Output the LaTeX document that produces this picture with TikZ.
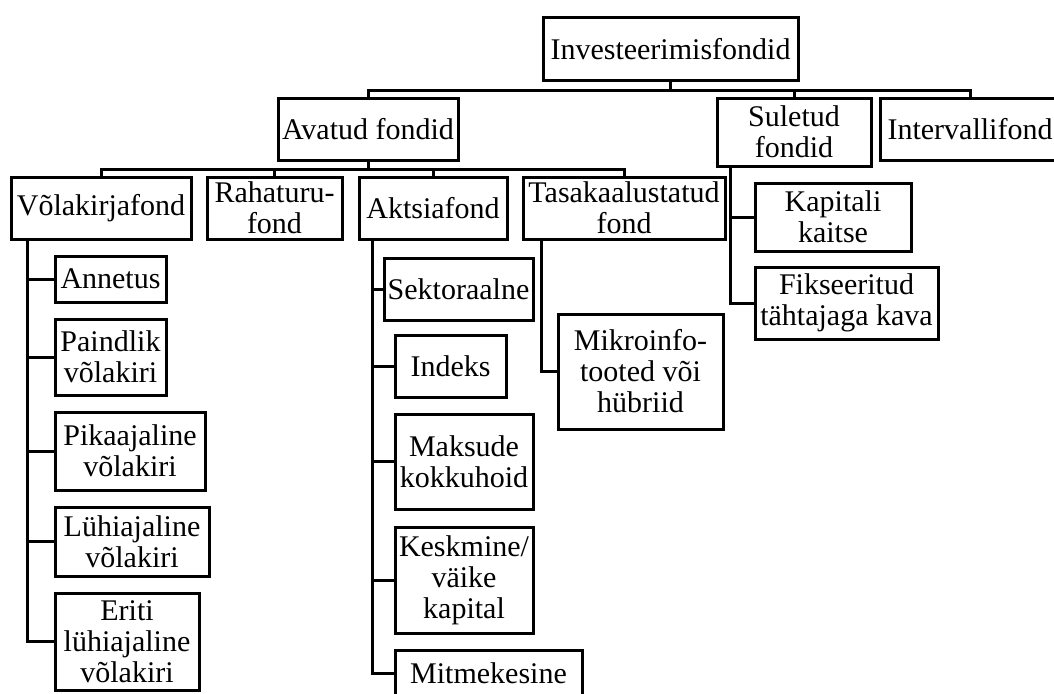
\documentclass[tikz,border=0pt]{standalone}
\usepackage{fontspec}
\setmainfont{Liberation Serif}
\tikzstyle{FONDbox}=[draw=black, line width=3pt, inner sep=0pt, align=center, font=\fontsize{30}{31}\selectfont]
\tikzstyle{FONDline}=[draw=black, line width=3pt]
\begin{document}
\begin{tikzpicture}[x=1pt, y=-1pt]
                \path [use as bounding box] (0,0) rectangle (1054,693);
                % top levels
                \node [FONDbox, minimum width=255, minimum height=62] (root) at (670.5,49) {Investeerimisfondid};
                \node [FONDbox, minimum width=180, minimum height=62] (avatud) at (368,129) {Avatud fondid};
                \node [FONDbox, minimum width=154, minimum height=68] (suletud) at (794,132) {Suletud\\fondid};
                \node [FONDbox, minimum width=180, minimum height=62] (interv) at (970,129) {Intervallifond};
                \node [FONDbox, minimum width=180, minimum height=62] (volak) at (101,208) {Võlakirjafond};
                \node [FONDbox, minimum width=135, minimum height=62] (raha) at (274.5,208) {Rahaturu-\\fond};
                \node [FONDbox, minimum width=148, minimum height=62] (aktsia) at (433,208) {Aktsiafond};
                \node [FONDbox, minimum width=202, minimum height=62] (tasak) at (624,208) {Tasakaalustatud\\fond};
                % Võlakirjafond
                \node [FONDbox, minimum width=111, minimum height=46] (annetus) at (110.5,279) {Annetus};
                \node [FONDbox, minimum width=111, minimum height=76] (paindlik) at (110.5,357) {Paindlik\\võlakiri};
                \node [FONDbox, minimum width=150, minimum height=78] (pikaaj) at (130,451) {Pikaajaline\\võlakiri};
                \node [FONDbox, minimum width=154, minimum height=69] (luhiaj) at (132,541.5) {Lühiajaline\\võlakiri};
                \node [FONDbox, minimum width=144, minimum height=97] (eriti) at (127,641.5) {Eriti\\lühiajaline\\võlakiri};
                % Aktsiafond
                \node [FONDbox, minimum width=149, minimum height=62] (sektor) at (458.5,289) {Sektoraalne};
                \node [FONDbox, minimum width=111, minimum height=62] (indeks) at (450.5,366) {Indeks};
                \node [FONDbox, minimum width=138, minimum height=95] (maksud) at (464,461.5) {Maksude\\kokkuhoid};
                \node [FONDbox, minimum width=138, minimum height=106] (keskm) at (464,580) {Keskmine/\\väike\\kapital};
                \node [FONDbox, minimum width=187, minimum height=46] (mitme) at (488.5,673) {Mitmekesine};
                % Tasakaalustatud fond, Suletud fondid
                \node [FONDbox, minimum width=165, minimum height=115] (mikro) at (640.5,371.5) {Mikroinfo-\\tooted või\\hübriid};
                \node [FONDbox, minimum width=156, minimum height=68] (kapital) at (833,217) {Kapitali\\kaitse};
                \node [FONDbox, minimum width=183, minimum height=72] (fiks) at (846.5,303) {Fikseeritud\\tähtajaga kava};
                % connectors
                \foreach \c in {avatud,suletud,interv}
                    \draw [FONDline] (root.south) -- ++(0,9) -| (\c.north);
                \foreach \c in {volak,raha,aktsia,tasak}
                    \draw [FONDline] (avatud.south) -- ++(0,8) -| (\c.north);
                \foreach \c in {annetus,paindlik,pikaaj,luhiaj,eriti}
                    \draw [FONDline] ([xshift=18pt]volak.south west) |- (\c.west);
                \foreach \c in {sektor,indeks,maksud,keskm,mitme}
                    \draw [FONDline] ([xshift=15pt]aktsia.south west) |- (\c.west);
                \draw [FONDline] ([xshift=20pt]tasak.south west) |- (mikro.west);
                \foreach \c in {kapital,fiks}
                    \draw [FONDline] ([xshift=15pt]suletud.south west) |- (\c.west);
            \end{tikzpicture}
\end{document}
